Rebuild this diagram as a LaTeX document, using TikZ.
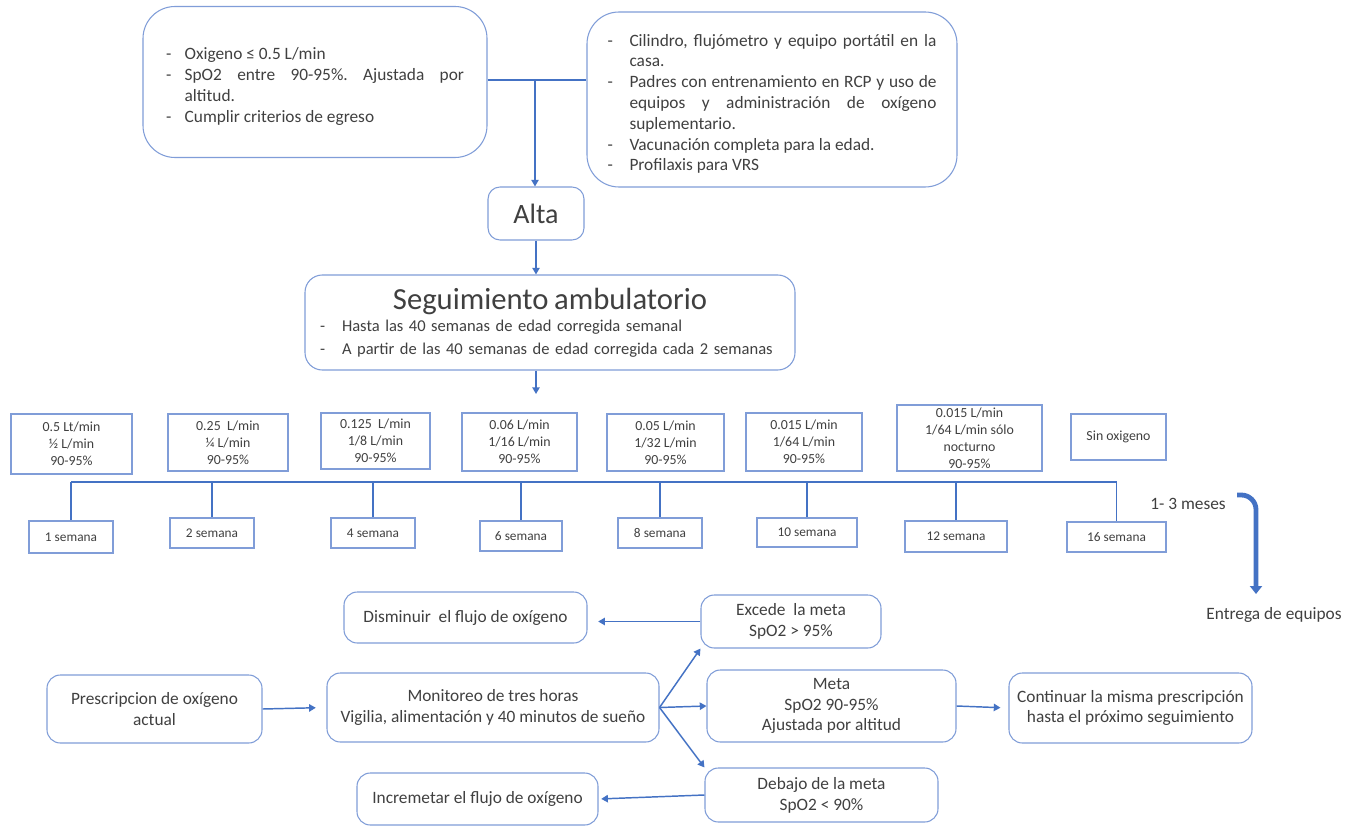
\documentclass[tikz,border=0pt]{standalone}
\usepackage{fontspec}
\setmainfont{Carlito}
\usepackage{xcolor}
\usetikzlibrary{arrows.meta}
\definecolor{azulcaja}{RGB}{128,157,216}
\definecolor{azullinea}{RGB}{68,114,196}
\definecolor{texto}{RGB}{64,64,64}
\frenchspacing
\newcommand{\letranormal}{\fontsize{13}{15.6}\selectfont}
\newcommand{\letrachica}{\fontsize{10.4}{12.7}\selectfont}
\newcommand{\letragrande}{\fontsize{23}{27}\selectfont}
\newenvironment{guiones}[1]{\begin{list}{-}{\setlength{\leftmargin}{#1}\setlength{\labelwidth}{#1}%
  \setlength{\labelsep}{0pt}\setlength{\itemsep}{0pt}\setlength{\parsep}{0pt}%
  \setlength{\topsep}{0pt}\setlength{\partopsep}{0pt}\renewcommand{\makelabel}[1]{##1\hfil}}}{\end{list}}
\tikzstyle{caja} = [draw=azulcaja, line width=0.8pt, text=texto, align=center, inner sep=2pt]
\tikzstyle{tasa} = [caja, font=\letrachica]
\tikzstyle{semana} = [caja, font=\fontsize{10}{12}\selectfont]
\tikzstyle{paso} = [caja, rounded corners=10pt, font=\letranormal]
\tikzstyle{cajagrande} = [caja, rounded corners=24pt, align=justify, font=\letranormal]
\tikzstyle{etiqueta} = [text=texto, font=\letranormal, inner sep=1pt]
\tikzstyle{linea} = [draw=azullinea, line width=1.1pt]
\tikzstyle{flecha} = [linea, -{Triangle[width=5.5pt,length=5pt]}]
\tikzstyle{gruesa} = [draw=azullinea, line width=3.6pt, -{Triangle[width=9pt,length=6pt]}]
\tikzset{tam/.style 2 args={minimum width=#1*0.75pt, minimum height=#2*0.75pt}}

\begin{document}
\begin{tikzpicture}[x=0.75pt, y=-0.75pt]
\path[fill=white, use as bounding box] (0,0) rectangle (1359,827);

% egreso
\node[cajagrande, tam={344}{151}, text width=223.5pt] (egreso) at (315,82) {%
  \begin{guiones}{14pt}
  \item Oxigeno ≤ 0.5 L/min
  \item SpO2 entre 90-95\%. Ajustada por \linebreak altitud.
  \item Cumplir criterios de egreso
  \end{guiones}};
\node[cajagrande, tam={370}{175}, text width=246.75pt] (equipos) at (772,99.5) {%
  \begin{guiones}{16.5pt}
  \item Cilindro, flujómetro y equipo portátil en la \linebreak casa.
  \item Padres con entrenamiento en RCP y uso de \linebreak equipos y administración de oxígeno \linebreak suplementario.
  \item Vacunación completa para la edad.
  \item Profilaxis para VRS
  \end{guiones}};
\node[caja, rounded corners=9pt, tam={96}{53}, font=\fontsize{21}{25}\selectfont] (alta) at (536,213.5) {Alta};
\node[caja, rounded corners=13pt, tam={490}{95}, text width=345pt, align=left, font=\fontsize{12.4}{17}\selectfont] (seguimiento) at (550,322.5) {%
  \makebox[\linewidth][c]{\letragrande Seguimiento ambulatorio}\par
  \begin{guiones}{16.5pt}
  \item Hasta las 40 semanas de edad corregida semanal
  \item A partir de las 40 semanas de edad corregida cada 2 semanas
  \end{guiones}};

\coordinate (union) at (535,80);
\draw[linea] (egreso.east |- union) -- (equipos.west |- union);
\draw[flecha] (union) -- (union |- alta.north);
\draw[flecha] (alta.south) -- (alta.south |- seguimiento.north);
\coordinate (finseg) at (536,394);
\draw[flecha] (alta.south |- seguimiento.south) -- (finseg);

% flujos
\node[tasa, tam={121}{60}] (r1) at (71.5,444) {0.5 Lt/min\\½ L/min\\90-95\%};
\node[tasa, tam={120}{57}] (r2) at (228,442.5) {0.25~ L/min\\¼ L/min\\90-95\%};
\node[tasa, tam={109}{56}] (r3) at (375.5,441) {0.125~ L/min\\1/8 L/min\\90-95\%};
\node[tasa, tam={115}{58}] (r4) at (519.5,442) {0.06 L/min\\1/16 L/min\\90-95\%};
\node[tasa, tam={117}{57}] (r5) at (665.5,442.5) {0.05 L/min\\1/32 L/min\\90-95\%};
\node[tasa, tam={116}{58}] (r6) at (804,442) {0.015 L/min\\1/64 L/min\\90-95\%};
\node[tasa, tam={145}{66}] (r7) at (969.5,438) {0.015 L/min\\1/64 L/min sólo\\nocturno\\90-95\%};
\node[tasa, tam={95}{46}] (r8) at (1118.5,437) {Sin oxigeno};

\node[semana, tam={84}{32}] (s1) at (71,537) {1 semana};
\node[semana, tam={84}{30}] (s2) at (212,533) {2 semana};
\node[semana, tam={84}{30}] (s4) at (373,533) {4 semana};
\node[semana, tam={82}{30}] (s6) at (521,536) {6 semana};
\node[semana, tam={84}{30}] (s8) at (660,533) {8 semana};
\node[semana, tam={100}{29}] (s10) at (807,532.5) {10 semana};
\node[semana, tam={102}{31}] (s12) at (956,536.5) {12 semana};
\node[semana, tam={99}{30}] (s16) at (1116.5,537) {16 semana};

\coordinate (bus) at (0,482);
\draw[linea] (s1.north |- bus) -- (s16.north |- bus);
\draw[linea] (s1.north |- bus) -- (s1.north);
\draw[linea] (s2.north |- bus) -- (s2.north);
\draw[linea] (s4.north |- bus) -- (s4.north);
\draw[linea] (s6.north |- bus) -- (s6.north);
\draw[linea] (s8.north |- bus) -- (s8.north);
\draw[linea] (s10.north |- bus) -- (s10.north);
\draw[linea] (s12.north |- bus) -- (s12.north);
\draw[linea] (s16.north |- bus) -- (s16.north);

\node[etiqueta] (meses) at (1188,504) {1- 3 meses};
\node[etiqueta] (entrega) at (1274,615) {Entrega de equipos};
\coordinate (ini) at (1237,495);
\coordinate (fin) at (1256,594);
\draw[gruesa, rounded corners=11pt] (ini) -| (fin);

% monitoreo
\node[paso, tam={243}{51}] (disminuir) at (465.5,617.5) {Disminuir~ el flujo de oxígeno};
\node[paso, tam={180}{53}] (excede) at (791,621.5) {Excede~ la meta\\SpO2 > 95\%};
\node[paso, tam={215}{68}] (prescripcion) at (154.5,709) {Prescripcion de oxígeno\\actual};
\node[paso, tam={332}{69}] (monitoreo) at (493,707.5) {Monitoreo de tres horas\\Vigilia, alimentación y 40 minutos de sueño};
\node[paso, tam={249}{72}] (meta) at (831.5,706) {Meta\\SpO2 90-95\%\\Ajustada por altitud};
\node[paso, tam={243}{70}] (continuar) at (1130.5,708) {Continuar la misma prescripción\\hasta el próximo seguimiento};
\node[paso, tam={233}{54}] (debajo) at (821.5,795) {Debajo de la meta\\SpO2 < 90\%};
\node[paso, tam={241}{52}] (incrementar) at (477.5,799) {Incremetar el flujo de oxígeno};

\draw[flecha, shorten >=8pt] (excede.west) -- (excede.west -| disminuir.east);
\draw[flecha, shorten >=2pt] (debajo.west) -- (incrementar.east);
\draw[flecha, shorten >=8pt] (prescripcion.east) -- (monitoreo.west);
\draw[flecha] (monitoreo.east) -- (excede.south west);
\draw[flecha] (monitoreo.east) -- (meta.west);
\draw[flecha] (monitoreo.east) -- (debajo.north west);
\draw[flecha, shorten >=6pt] (meta.east) -- (continuar.west);
\end{tikzpicture}
\end{document}
